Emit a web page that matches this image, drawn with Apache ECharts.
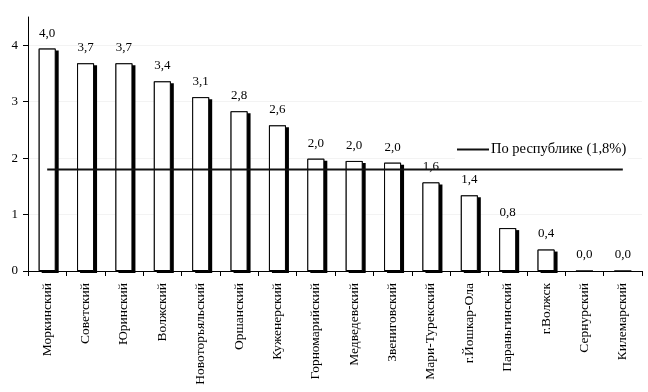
<!DOCTYPE html>
<html><head><meta charset="utf-8">
<script src="https://cdn.jsdelivr.net/npm/echarts@6/dist/echarts.min.js"></script>
<style>html,body{margin:0;padding:0;background:#fff}#c{width:648px;height:392px}</style>
</head><body><div id="c"></div>
<script>
const categories = ['Моркинский','Советский','Юринский','Волжский','Новоторъяльский','Оршанский','Куженерский','Горномарийский','Медведевский','Звениговский','Мари-Турекский','г.Йошкар-Ола','Параньгинский','г.Волжск','Сернурский','Килемарский'];
const values = [3.94,3.68,3.68,3.36,3.08,2.83,2.58,1.99,1.95,1.92,1.57,1.34,0.76,0.38,0,0];
const valueLabels = ['4,0','3,7','3,7','3,4','3,1','2,8','2,6','2,0','2,0','2,0','1,6','1,4','0,8','0,4','0,0','0,0'];
const republicValue = 1.8;
const republicName = 'По республике (1,8%)';
const yTicks = [0,1,2,3,4];

const font = 'Liberation Serif';
const chart = echarts.init(document.getElementById('c'), null, {renderer:'canvas'});
chart.setOption({
  animation:false,
  backgroundColor:'#fff',
  textStyle:{fontFamily:font},
  grid:{left:28,right:6,top:17,bottom:121,containLabel:false},
  legend:{
    data:[republicName], left:455, top:140, icon:'path://M0,0L32,0L32,2L0,2Z',
    itemWidth:32,itemHeight:2,itemGap:4,padding:[2,2,2,2],
    backgroundColor:'#fff',
    textStyle:{fontFamily:font,fontSize:14.5,color:'#000',padding:[0,0,0,-3]}
  },
  xAxis:{
    type:'category', data:categories, boundaryGap:true,
    axisLine:{lineStyle:{color:'#000',width:1}},
    axisTick:{show:true,length:5,lineStyle:{color:'#000'}},
    axisLabel:{rotate:90,interval:0,fontFamily:font,fontSize:13.5,color:'#000',margin:12}
  },
  yAxis:{
    type:'value', min:0, max:4.5, interval:1,
    axisLine:{show:true,lineStyle:{color:'#000'}},
    axisTick:{show:true,length:5,lineStyle:{color:'#000'},customValues:yTicks},
    axisLabel:{fontFamily:font,fontSize:13,color:'#000',margin:10,customValues:yTicks},
    splitLine:{show:true,lineStyle:{color:'#f3f3f3',width:1}}
  },
  series:[
    {
      type:'bar', name:'shadow', data:values.map(v => v > 0 ? v : '-'), barWidth:17, barGap:'-100%',
      itemStyle:{color:'#000',shadowColor:'#000',shadowOffsetX:3,shadowOffsetY:2,shadowBlur:0},
      silent:true, z:1
    },
    {
      type:'bar', name:'main', data:values, barWidth:17, barGap:'-100%',
      itemStyle:{color:'#fff',borderColor:'#000',borderWidth:1},
      label:{show:true,position:'top',distance:9,fontFamily:font,fontSize:13,color:'#000',
        formatter:p=>valueLabels[p.dataIndex]},
      z:2
    },
    {
      type:'line', name:republicName, data:categories.map(()=>republicValue),
      symbol:'none', lineStyle:{color:'#111',width:2}, itemStyle:{color:'#111'}, z:3
    }
  ]
});
</script></body></html>
